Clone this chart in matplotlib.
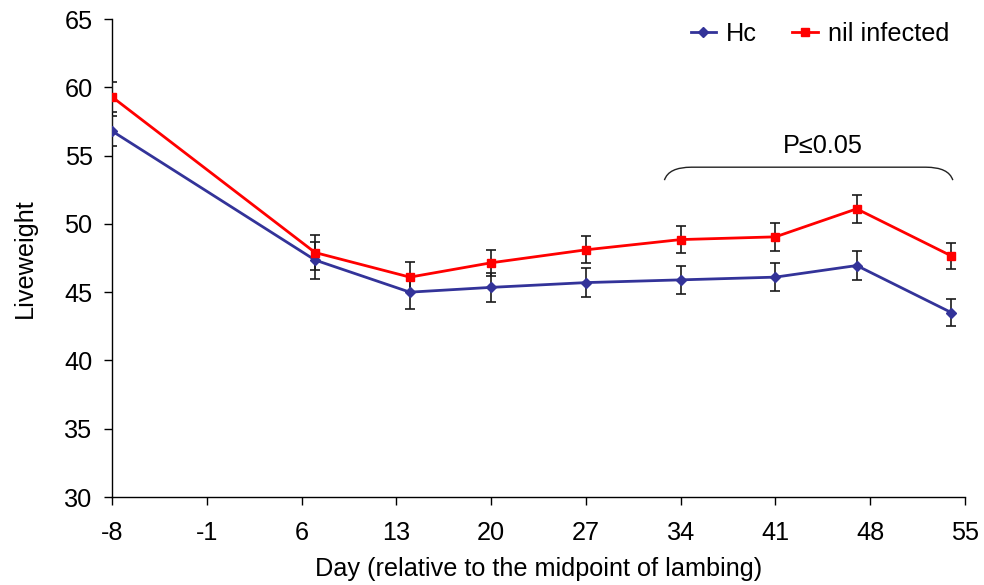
import numpy as np
import matplotlib.pyplot as plt
from matplotlib.lines import Line2D
from matplotlib.path import Path
from matplotlib.patches import PathPatch

plt.rcParams["font.family"] = ["Liberation Sans", "DejaVu Sans"]
plt.rcParams["axes.unicode_minus"] = False

# liveweight by day relative to the midpoint of lambing
days = [-8, 7, 14, 20, 27, 34, 41, 47, 54]
hc_mean = [56.8, 47.35, 45.0, 45.35, 45.7, 45.9, 46.1, 46.95, 43.5]
hc_err = [1.1, 1.35, 1.2, 1.05, 1.05, 1.0, 1.0, 1.05, 1.0]
nil_mean = [59.3, 47.9, 46.1, 47.15, 48.1, 48.85, 49.05, 51.1, 47.65]
nil_err = [1.1, 1.3, 1.1, 0.95, 1.0, 1.0, 1.0, 1.0, 0.95]

x_ticks = [-8, -1, 6, 13, 20, 27, 34, 41, 48, 55]
y_ticks = [30, 35, 40, 45, 50, 55, 60, 65]

blue = "#333399"
red = "#ff0000"
fs = 18.2

fig = plt.figure(figsize=(9.84, 5.85), dpi=100)
ax = fig.add_axes([0.1138, 0.1504, 0.8669, 0.8171])

ebar = dict(ecolor="#1a1a1a", elinewidth=1.2, capsize=3.5, capthick=1.2)
ax.errorbar(days, hc_mean, yerr=hc_err, color=blue, lw=2.0, marker="D",
            ms=5, zorder=3, **ebar)
ax.errorbar(days, nil_mean, yerr=nil_err, color=red, lw=2.0, marker="s",
            ms=5.5, zorder=3, **ebar)

# significance bracket over days 34-54
x0, x1, ytop, ybot = 32.8, 54.1, 54.15, 53.2
verts = [(x0, ybot), (x0 + 0.3, ytop), (x0 + 2.0, ytop),
         (x1 - 2.0, ytop),
         (x1 - 0.3, ytop), (x1, ybot)]
codes = [Path.MOVETO, Path.CURVE3, Path.CURVE3, Path.LINETO, Path.CURVE3, Path.CURVE3]
ax.add_patch(PathPatch(Path(verts, codes), fill=False, lw=1.0, color="#222222"))
ax.text(44.5, 54.85, "P\u22640.05", ha="center", va="bottom", fontsize=fs)

ax.set_xlim(-8, 55)
ax.set_ylim(30, 65)
ax.set_xticks(x_ticks)
ax.set_yticks(y_ticks)
ax.tick_params(axis="both", direction="out", length=6, width=1.0, labelsize=fs)
ax.tick_params(axis="x", pad=11)
ax.tick_params(axis="y", pad=8)
for side in ("top", "right"):
    ax.spines[side].set_visible(False)
for side in ("left", "bottom"):
    ax.spines[side].set_linewidth(1.0)

ax.set_xlabel("Day (relative to the midpoint of lambing)", fontsize=fs, labelpad=9)
ax.set_ylabel("Liveweight", fontsize=fs, labelpad=20)

handles = [Line2D([], [], color=blue, lw=2.0, marker="D", ms=5),
           Line2D([], [], color=red, lw=2.0, marker="s", ms=5.5)]
ax.legend(handles, ["Hc", "nil infected"], loc="upper right", ncol=2, frameon=False,
          fontsize=fs, handlelength=1.0, handletextpad=0.4, columnspacing=1.4,
          bbox_to_anchor=(1.008, 1.042))

fig.savefig("out.png", dpi=100)
